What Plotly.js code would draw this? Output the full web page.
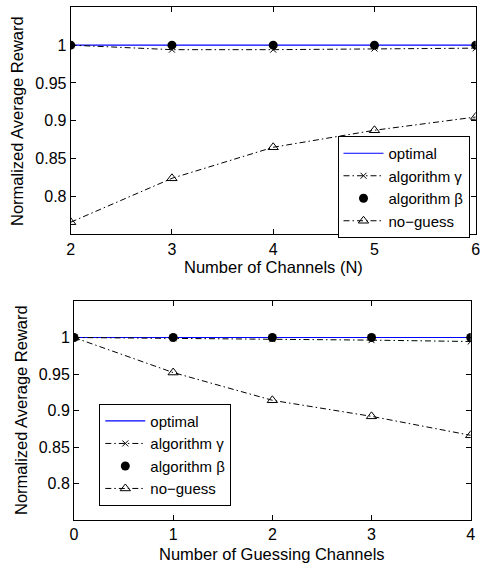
<!DOCTYPE html>
<html>
<head>
<meta charset="utf-8">
<script src="https://cdn.plot.ly/plotly-3.0.1.min.js"></script>
<style>html,body{margin:0;padding:0;background:#fff;}#chart{width:480px;height:563px;}</style>
</head>
<body>
<div id="chart"></div>
<script>
// Top panel: Number of Channels (N)
const channelsN = [2, 3, 4, 5, 6];
const topOptimal = [1, 1, 1, 1, 1];
const topGamma = [1, 0.994, 0.994, 0.9955, 0.996];
const topBeta = [1, 1, 1, 1, 1];
const topNoGuess = [0.766, 0.824, 0.865, 0.8875, 0.905];

// Bottom panel: Number of Guessing Channels
const guessChannels = [0, 1, 2, 3, 4];
const botOptimal = [1, 1, 1, 1, 1];
const botGamma = [1, 0.999, 0.9977, 0.9964, 0.9945];
const botBeta = [1, 1, 1, 1, 1];
const botNoGuess = [1, 0.952, 0.914, 0.892, 0.866];

const yTickVals = [0.8, 0.85, 0.9, 0.95, 1];
const yTickText = ['0.8', '0.85', '0.9', '0.95', '1'];
const seriesNames = ['optimal', 'algorithm \u03b3', 'algorithm \u03b2', 'no\u2212guess'];

const dashDot = '6px,3px,1.5px,3px';
const FONT = 'Liberation Sans, Arial, Helvetica, sans-serif';

function makeTraces(x, opt, gam, bet, ng, xa, ya, leg) {
  return [
    {x: x, y: opt, name: seriesNames[0], type: 'scatter', mode: 'lines',
     line: {color: '#0000ff', width: 1.2}, xaxis: xa, yaxis: ya, legend: leg},
    {x: x, y: gam, name: seriesNames[1], type: 'scatter', mode: 'lines+markers',
     line: {color: '#000', width: 1, dash: dashDot},
     marker: {symbol: 'x-thin-open', size: 6, color: '#000', line: {color: '#000', width: 1}},
     xaxis: xa, yaxis: ya, legend: leg},
    {x: x, y: bet, name: seriesNames[2], type: 'scatter', mode: 'markers',
     marker: {symbol: 'circle', size: 9, color: '#000'},
     xaxis: xa, yaxis: ya, legend: leg},
    {x: x, y: ng, name: seriesNames[3], type: 'scatter', mode: 'lines+markers',
     line: {color: '#000', width: 1, dash: dashDot},
     marker: {symbol: 'triangle-up-open', size: 9, color: '#000', line: {color: '#000', width: 1}},
     xaxis: xa, yaxis: ya, legend: leg}
  ];
}

const data = [].concat(
  makeTraces(channelsN, topOptimal, topGamma, topBeta, topNoGuess, 'x', 'y', 'legend'),
  makeTraces(guessChannels, botOptimal, botGamma, botBeta, botNoGuess, 'x2', 'y2', 'legend2')
);

const W = 480, H = 563;
const axisCommon = {
  showline: true, linecolor: '#000', linewidth: 1, mirror: 'ticks',
  ticks: 'inside', ticklen: 5, tickcolor: '#000', showgrid: false, zeroline: false,
  ticklabeloverflow: 'allow',
  tickfont: {family: FONT, size: 16, color: '#000'}
};

const legendCommon = {
  bgcolor: '#fff', bordercolor: '#000', borderwidth: 1,
  font: {family: FONT, size: 15, color: '#000'},
  xanchor: 'left', yanchor: 'middle', itemwidth: 40, tracegroupgap: 0
};

function ann(text, px, py, angle) {
  return {text: text, xref: 'paper', yref: 'paper', x: px / W, y: 1 - py / H,
    xanchor: 'center', yanchor: 'middle', showarrow: false, textangle: angle || 0,
    font: {family: FONT, size: 16.5, color: '#000'}};
}

const layout = {
  width: W, height: H,
  margin: {l: 0, r: 0, t: 0, b: 0},
  paper_bgcolor: '#fff', plot_bgcolor: '#fff',
  showlegend: true,
  xaxis: Object.assign({}, axisCommon, {domain: [70.7 / W, 475.7 / W], range: [2, 6],
    tickvals: channelsN, anchor: 'y'}),
  yaxis: Object.assign({}, axisCommon, {domain: [1 - 234.3 / H, 1 - 7.3 / H], range: [0.75, 1.05],
    tickvals: yTickVals, ticktext: yTickText, anchor: 'x'}),
  xaxis2: Object.assign({}, axisCommon, {domain: [74 / W, 470.7 / W], range: [0, 4],
    tickvals: guessChannels, anchor: 'y2'}),
  yaxis2: Object.assign({}, axisCommon, {domain: [1 - 520 / H, 1 - 301 / H], range: [0.75, 1.05],
    tickvals: yTickVals, ticktext: yTickText, anchor: 'x2'}),
  legend: Object.assign({}, legendCommon, {x: 337.5 / W, y: 1 - 187 / H}),
  legend2: Object.assign({}, legendCommon, {x: 99.3 / W, y: 1 - 454.7 / H}),
  annotations: [
    ann('Normalized Average Reward', 17, 121, -90),
    ann('Number of Channels (N)', 273, 267),
    ann('Normalized Average Reward', 21, 410, -90),
    ann('Number of Guessing Channels', 272, 554)
  ]
};

Plotly.newPlot('chart', data, layout, {displayModeBar: false, staticPlot: true});
</script>
</body>
</html>
